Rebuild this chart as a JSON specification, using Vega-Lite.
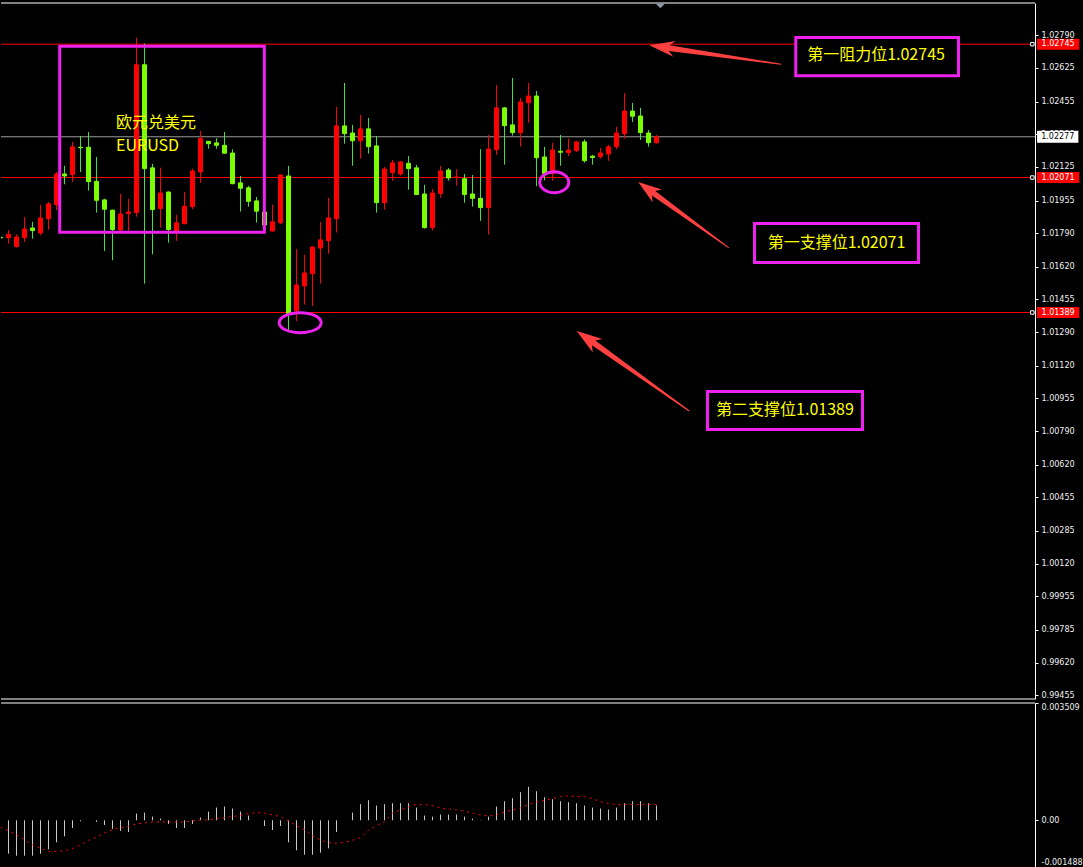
{
  "$schema": "https://vega.github.io/schema/vega-lite/v6.json",
  "background": "#000000",
  "padding": {"left": 0, "top": 2, "right": 0, "bottom": 0},
  "spacing": 2,
  "config": {
    "view": {"stroke": null, "fill": "#000000"},
    "scale": {"continuousPadding": 0},
    "axis": {"labelFont": "DejaVu Sans", "labelFontSize": 8, "labelColor": "#f0f0f0", "domainColor": "#ffffff", "tickColor": "#ffffff", "tickSize": 3, "labelPadding": 3, "grid": false, "domainWidth": 1, "tickWidth": 1, "labelOverlap": false}
  },
  "datasets": {
    "one": [{}],
    "levels": [{"p": 1.02745}, {"p": 1.02071}, {"p": 1.01389}],
    "bars": [
      {"i":0,"o":1.01769,"h":1.01776,"l":1.01759,"c":1.01766,"s":-0.0002},
      {"i":1,"o":1.01767,"h":1.01805,"l":1.01737,"c":1.01784,"m":-0.001,"s":-0.00031},
      {"i":2,"o":1.01722,"h":1.01784,"l":1.01717,"c":1.01771,"m":-0.00106,"s":-0.00043},
      {"i":3,"o":1.01767,"h":1.01872,"l":1.01746,"c":1.01811,"m":-0.00106,"s":-0.00059},
      {"i":4,"o":1.01816,"h":1.01847,"l":1.01762,"c":1.01803,"m":-0.00106,"s":-0.00074},
      {"i":5,"o":1.01791,"h":1.01933,"l":1.01779,"c":1.01867,"m":-0.001,"s":-0.00083},
      {"i":6,"o":1.01863,"h":1.01948,"l":1.01808,"c":1.01938,"m":-0.00087,"s":-0.00093},
      {"i":7,"o":1.01934,"h":1.02099,"l":1.01906,"c":1.02089,"m":-0.00066,"s":-0.00094},
      {"i":8,"o":1.02089,"h":1.0213,"l":1.02037,"c":1.02079,"m":-0.00048,"s":-0.00091},
      {"i":9,"o":1.02086,"h":1.02251,"l":1.02049,"c":1.02226,"m":-0.00023,"s":-0.00085},
      {"i":10,"o":1.02224,"h":1.02281,"l":1.02099,"c":1.02222,"m":-0.00003,"s":-0.00074},
      {"i":11,"o":1.02224,"h":1.02301,"l":1.02005,"c":1.0205,"m":0,"s":-0.0006},
      {"i":12,"o":1.02052,"h":1.02175,"l":1.01894,"c":1.01956,"m":-0.00005,"s":-0.00051},
      {"i":13,"o":1.01958,"h":1.01964,"l":1.017,"c":1.01911,"m":-0.00014,"s":-0.00038},
      {"i":14,"o":1.01906,"h":1.01909,"l":1.01653,"c":1.01808,"m":-0.00026,"s":-0.00028},
      {"i":15,"o":1.01806,"h":1.01988,"l":1.01801,"c":1.01887,"m":-0.00032,"s":-0.00022},
      {"i":16,"o":1.01889,"h":1.01963,"l":1.01801,"c":1.01897,"m":-0.00035,"s":-0.00018},
      {"i":17,"o":1.01894,"h":1.02778,"l":1.01873,"c":1.02641,"m":0.0002,"s":-0.00011},
      {"i":18,"o":1.02641,"h":1.02748,"l":1.01535,"c":1.02116,"m":0.00023,"s":-0.00008},
      {"i":19,"o":1.0212,"h":1.0214,"l":1.01683,"c":1.01909,"m":0.00011,"s":-0.00005},
      {"i":20,"o":1.01914,"h":1.02121,"l":1.01818,"c":1.01993,"m":0.00005,"s":-0.00005},
      {"i":21,"o":1.01998,"h":1.02,"l":1.01742,"c":1.01808,"m":-0.00011,"s":-0.00005},
      {"i":22,"o":1.01798,"h":1.01882,"l":1.01751,"c":1.01842,"m":-0.00023,"s":-0.00005},
      {"i":23,"o":1.01838,"h":1.01998,"l":1.01835,"c":1.01926,"m":-0.00023,"s":-0.00005},
      {"i":24,"o":1.01924,"h":1.02116,"l":1.01911,"c":1.02104,"m":-0.00011,"s":-0.00002},
      {"i":25,"o":1.02099,"h":1.02306,"l":1.02045,"c":1.02268,"m":0.00008,"s":0.00001},
      {"i":26,"o":1.02254,"h":1.02256,"l":1.02217,"c":1.02242,"m":0.00026,"s":0.00001},
      {"i":27,"o":1.02246,"h":1.0227,"l":1.02217,"c":1.02234,"m":0.00038,"s":0.00005},
      {"i":28,"o":1.02234,"h":1.02301,"l":1.02192,"c":1.02194,"m":0.00041,"s":0.00008},
      {"i":29,"o":1.02195,"h":1.02214,"l":1.02037,"c":1.0204,"m":0.00035,"s":0.00011},
      {"i":30,"o":1.02044,"h":1.02079,"l":1.01899,"c":1.02017,"m":0.00026,"s":0.00015},
      {"i":31,"o":1.02019,"h":1.02029,"l":1.01924,"c":1.01951,"m":0.00014,"s":0.0002},
      {"i":32,"o":1.01953,"h":1.01973,"l":1.01843,"c":1.01901,"m":0,"s":0.00023},
      {"i":33,"o":1.01897,"h":1.019,"l":1.01816,"c":1.01831,"m":-0.00017,"s":0.00022},
      {"i":34,"o":1.01801,"h":1.01934,"l":1.01798,"c":1.01847,"m":-0.00029,"s":0.00016},
      {"i":35,"o":1.01842,"h":1.02086,"l":1.01835,"c":1.02084,"m":-0.00017,"s":0.00011},
      {"i":36,"o":1.02079,"h":1.0213,"l":1.01296,"c":1.0138,"m":-0.00066,"s":-0.00003},
      {"i":37,"o":1.01397,"h":1.0171,"l":1.01346,"c":1.01528,"m":-0.0009,"s":-0.00016},
      {"i":38,"o":1.01523,"h":1.0168,"l":1.01429,"c":1.01589,"m":-0.00103,"s":-0.00028},
      {"i":39,"o":1.01585,"h":1.01722,"l":1.01422,"c":1.0172,"m":-0.00103,"s":-0.00047},
      {"i":40,"o":1.01715,"h":1.01847,"l":1.01535,"c":1.01756,"m":-0.00097,"s":-0.00059},
      {"i":41,"o":1.01752,"h":1.01968,"l":1.01686,"c":1.01867,"m":-0.00084,"s":-0.00067},
      {"i":42,"o":1.01863,"h":1.02428,"l":1.01793,"c":1.02332,"m":-0.00035,"s":-0.00069},
      {"i":43,"o":1.02332,"h":1.02549,"l":1.02242,"c":1.02293,"m":0,"s":-0.00066},
      {"i":44,"o":1.02296,"h":1.02337,"l":1.02131,"c":1.02257,"m":0.00023,"s":-0.0006},
      {"i":45,"o":1.02257,"h":1.02387,"l":1.02166,"c":1.02317,"m":0.00048,"s":-0.00052},
      {"i":46,"o":1.02317,"h":1.02372,"l":1.02192,"c":1.02227,"m":0.0006,"s":-0.0003},
      {"i":47,"o":1.02231,"h":1.02281,"l":1.01894,"c":1.01944,"m":0.00044,"s":-0.00016},
      {"i":48,"o":1.01944,"h":1.02125,"l":1.01909,"c":1.02114,"m":0.00048,"s":-0.00004},
      {"i":49,"o":1.02096,"h":1.0216,"l":1.02055,"c":1.02145,"m":0.00051,"s":0.00022},
      {"i":50,"o":1.02089,"h":1.02155,"l":1.02081,"c":1.0215,"m":0.00051,"s":0.00031},
      {"i":51,"o":1.02143,"h":1.02179,"l":1.0201,"c":1.02116,"m":0.00051,"s":0.0004},
      {"i":52,"o":1.0212,"h":1.02135,"l":1.01983,"c":1.01985,"m":0.00038,"s":0.00048},
      {"i":53,"o":1.01988,"h":1.02034,"l":1.01813,"c":1.01818,"m":0.00014,"s":0.00047},
      {"i":54,"o":1.01818,"h":1.02013,"l":1.01803,"c":1.01993,"m":0.00011,"s":0.00044},
      {"i":55,"o":1.0199,"h":1.0213,"l":1.01969,"c":1.02104,"m":0.00017,"s":0.00037},
      {"i":56,"o":1.02109,"h":1.02119,"l":1.02055,"c":1.02069,"m":0.00017,"s":0.00034},
      {"i":57,"o":1.02072,"h":1.02114,"l":1.0203,"c":1.02074,"m":0.00017,"s":0.00031},
      {"i":58,"o":1.02065,"h":1.02089,"l":1.01944,"c":1.01985,"m":0.00011,"s":0.00028},
      {"i":59,"o":1.01988,"h":1.02084,"l":1.01924,"c":1.01966,"m":0.00005,"s":0.00021},
      {"i":60,"o":1.01966,"h":1.02215,"l":1.01852,"c":1.01919,"m":0.00001,"s":0.00016},
      {"i":61,"o":1.01919,"h":1.02286,"l":1.01782,"c":1.02215,"m":0.00011,"s":0.00013},
      {"i":62,"o":1.02212,"h":1.02539,"l":1.02185,"c":1.02423,"m":0.00041,"s":0.00016},
      {"i":63,"o":1.02423,"h":1.02428,"l":1.02136,"c":1.02333,"m":0.00057,"s":0.00025},
      {"i":64,"o":1.02337,"h":1.02574,"l":1.02283,"c":1.02298,"m":0.00066,"s":0.00031},
      {"i":65,"o":1.02298,"h":1.02473,"l":1.02227,"c":1.02453,"m":0.00084,"s":0.00037},
      {"i":66,"o":1.02449,"h":1.02549,"l":1.02348,"c":1.02483,"m":0.001,"s":0.00047},
      {"i":67,"o":1.02483,"h":1.02509,"l":1.02027,"c":1.02171,"m":0.00087,"s":0.00055},
      {"i":68,"o":1.02175,"h":1.02226,"l":1.02057,"c":1.02091,"m":0.00069,"s":0.00059},
      {"i":69,"o":1.02091,"h":1.02246,"l":1.02055,"c":1.0221,"m":0.00063,"s":0.00065},
      {"i":70,"o":1.02204,"h":1.02286,"l":1.02131,"c":1.02199,"m":0.00057,"s":0.00071},
      {"i":71,"o":1.02197,"h":1.02268,"l":1.0218,"c":1.0221,"m":0.00054,"s":0.00073},
      {"i":72,"o":1.02207,"h":1.02256,"l":1.022,"c":1.02251,"m":0.00051,"s":0.00071},
      {"i":73,"o":1.02251,"h":1.02264,"l":1.02146,"c":1.02156,"m":0.00044,"s":0.00071},
      {"i":74,"o":1.02179,"h":1.02185,"l":1.02136,"c":1.02172,"m":0.00038,"s":0.00064},
      {"i":75,"o":1.02177,"h":1.02221,"l":1.02166,"c":1.02195,"m":0.00035,"s":0.00056},
      {"i":76,"o":1.0219,"h":1.02236,"l":1.02155,"c":1.02226,"m":0.00032,"s":0.0005},
      {"i":77,"o":1.02227,"h":1.02327,"l":1.02214,"c":1.02296,"m":0.00038,"s":0.00047},
      {"i":78,"o":1.02293,"h":1.02498,"l":1.02268,"c":1.02407,"m":0.00051,"s":0.00047},
      {"i":79,"o":1.02407,"h":1.02448,"l":1.02352,"c":1.02381,"m":0.00057,"s":0.00047},
      {"i":80,"o":1.02382,"h":1.02423,"l":1.02261,"c":1.02298,"m":0.00057,"s":0.00047},
      {"i":81,"o":1.02296,"h":1.02311,"l":1.02227,"c":1.02247,"m":0.00051,"s":0.00047},
      {"i":82,"o":1.02247,"h":1.02286,"l":1.02242,"c":1.02277,"m":0.00044,"s":0.00047}
    ]
  },
  "vconcat": [
    {
      "width": 1034,
      "height": 696,
      "layer": [
        {
          "data": {"name": "one"},
          "mark": {"type": "rule", "color": "#ffffff", "strokeWidth": 1},
          "encoding": {
            "y": {"datum": 1.02953, "type": "quantitative", "title": null,
              "scale": {"domain": [0.99436, 1.02953], "nice": false, "zero": false, "padding": 0},
              "axis": {"orient": "right", "title": null, "format": ".5f", "labelOverlap": false, "tickCount": 100,
                "values": [1.0279, 1.02625, 1.02455, 1.0229, 1.02125, 1.01955, 1.0179, 1.0162, 1.01455, 1.0129, 1.0112, 1.00955, 1.0079, 1.0062, 1.00455, 1.00285, 1.0012, 0.99955, 0.99785, 0.9962, 0.99455]}}
          }
        },
        {
          "data": {"name": "one"},
          "mark": {"type": "rule", "color": "#ffffff", "strokeWidth": 1},
          "encoding": {"y": {"datum": 0.99436, "type": "quantitative", "title": null}}
        },
        {
          "data": {"name": "levels"},
          "mark": {"type": "rule", "color": "#ff0000", "strokeWidth": 1},
          "encoding": {"y": {"field": "p", "type": "quantitative", "title": null}}
        },
        {
          "data": {"name": "one"},
          "mark": {"type": "rule", "color": "#9a9a9a", "strokeWidth": 1},
          "encoding": {"y": {"datum": 1.02277, "type": "quantitative", "title": null}}
        },
        {
          "data": {"name": "bars"},
          "mark": {"type": "rule", "strokeWidth": 1, "clip": true},
          "encoding": {
            "x": {"field": "i", "type": "quantitative", "axis": null, "scale": {"domain": [0.0625, 129.3125], "nice": false, "zero": false, "padding": 0}},
            "y": {"field": "l", "type": "quantitative", "title": null},
            "y2": {"field": "h"},
            "color": {"condition": {"test": "datum.c > datum.o", "value": "#ff0000"}, "value": "#40e040"}
          }
        },
        {
          "data": {"name": "bars"},
          "mark": {"type": "bar", "size": 4, "strokeWidth": 1, "clip": true},
          "encoding": {
            "x": {"field": "i", "type": "quantitative", "axis": null},
            "y": {"field": "o", "type": "quantitative", "title": null},
            "y2": {"field": "c"},
            "fill": {"condition": {"test": "datum.c > datum.o", "value": "#ff0000"}, "value": "#7cfc00"},
            "stroke": {"condition": {"test": "datum.c > datum.o", "value": "#ff0000"}, "value": "#7cfc00"}
          }
        },
        {
          "data": {"name": "one"},
          "mark": {"type": "rect", "filled": false, "stroke": "#ee22ee", "strokeWidth": 3},
          "encoding": {
            "x": {"datum": 7.4, "type": "quantitative", "axis": null},
            "x2": {"datum": 32.98},
            "y": {"datum": 1.027344, "type": "quantitative", "title": null},
            "y2": {"datum": 1.017946}
          }
        },
        {
          "data": {"name": "one"},
          "mark": {"type": "text", "font": "Noto Sans CJK SC", "fontSize": 16, "color": "#ffff00", "align": "left", "baseline": "middle"},
          "encoding": {
            "x": {"datum": 14.44, "type": "quantitative", "axis": null},
            "y": {"datum": 1.023443, "type": "quantitative", "title": null},
            "text": {"value": "欧元兑美元"}
          }
        },
        {
          "data": {"name": "one"},
          "mark": {"type": "text", "font": "Noto Sans CJK SC", "fontSize": 16, "color": "#ffff00", "align": "left", "baseline": "middle"},
          "encoding": {
            "x": {"datum": 14.44, "type": "quantitative", "axis": null},
            "y": {"datum": 1.022322, "type": "quantitative", "title": null},
            "text": {"value": "EURUSD"}
          }
        },
        {
          "data": {"name": "one"},
          "mark": {"type": "point", "filled": false, "color": "#ee22ee", "strokeWidth": 3, "opacity": 1, "size": 841,
            "shape": "M -1 0 C -1 -0.398 -0.552 -0.72 0 -0.72 C 0.552 -0.72 1 -0.398 1 0 C 1 0.398 0.552 0.72 0 0.72 C -0.552 0.72 -1 0.398 -1 0 Z"},
          "encoding": {
            "x": {"datum": 69.22, "type": "quantitative", "axis": null},
            "y": {"datum": 1.020472, "type": "quantitative", "title": null}
          }
        },
        {
          "data": {"name": "one"},
          "mark": {"type": "point", "filled": false, "color": "#ee22ee", "strokeWidth": 3, "opacity": 1, "size": 1764,
            "shape": "M -1 0 C -1 -0.263 -0.552 -0.476 0 -0.476 C 0.552 -0.476 1 -0.263 1 0 C 1 0.263 0.552 0.476 0 0.476 C -0.552 0.476 -1 0.263 -1 0 Z"},
          "encoding": {
            "x": {"datum": 37.46, "type": "quantitative", "axis": null},
            "y": {"datum": 1.013377, "type": "quantitative", "title": null}
          }
        },
        {
          "data": {"name": "one"},
          "mark": {"type": "point", "filled": true, "color": "#ff4040", "strokeWidth": 0, "opacity": 1, "size": 17689, "angle": 278.2,
            "shape": "M 0 -1 L 0.12 -0.62 L 0.042 -0.7 L 0.008 1 L -0.008 1 L -0.042 -0.7 L -0.12 -0.62 Z"},
          "encoding": {
            "x": {"datum": 89.34, "type": "quantitative", "axis": null},
            "y": {"datum": 1.026914, "type": "quantitative", "title": null}
          }
        },
        {
          "data": {"name": "one"},
          "mark": {"type": "point", "filled": true, "color": "#ff4040", "strokeWidth": 0, "opacity": 1, "size": 12544, "angle": 306,
            "shape": "M 0 -1 L 0.14 -0.58 L 0.05 -0.66 L 0.009 1 L -0.009 1 L -0.05 -0.66 L -0.14 -0.58 Z"},
          "encoding": {
            "x": {"datum": 85.38, "type": "quantitative", "axis": null},
            "y": {"datum": 1.01882, "type": "quantitative", "title": null}
          }
        },
        {
          "data": {"name": "one"},
          "mark": {"type": "point", "filled": true, "color": "#ff4040", "strokeWidth": 0, "opacity": 1, "size": 19044, "angle": 305.5,
            "shape": "M 0 -1 L 0.12 -0.63 L 0.042 -0.7 L 0.008 1 L -0.008 1 L -0.042 -0.7 L -0.12 -0.63 Z"},
          "encoding": {
            "x": {"datum": 79.06, "type": "quantitative", "axis": null},
            "y": {"datum": 1.010937, "type": "quantitative", "title": null}
          }
        },
        {
          "data": {"name": "one"},
          "mark": {"type": "rect", "fill": "#000000", "stroke": "#ee22ee", "strokeWidth": 3},
          "encoding": {
            "x": {"datum": 99.41, "type": "quantitative", "axis": null},
            "x2": {"datum": 119.75},
            "y": {"datum": 1.027789, "type": "quantitative", "title": null},
            "y2": {"datum": 1.025853}
          }
        },
        {
          "data": {"name": "one"},
          "mark": {"type": "rect", "fill": "#000000", "stroke": "#ee22ee", "strokeWidth": 3},
          "encoding": {
            "x": {"datum": 94.25, "type": "quantitative", "axis": null},
            "x2": {"datum": 114.75},
            "y": {"datum": 1.01839, "type": "quantitative", "title": null},
            "y2": {"datum": 1.016419}
          }
        },
        {
          "data": {"name": "one"},
          "mark": {"type": "rect", "fill": "#000000", "stroke": "#ee22ee", "strokeWidth": 3},
          "encoding": {
            "x": {"datum": 88.375, "type": "quantitative", "axis": null},
            "x2": {"datum": 107.75},
            "y": {"datum": 1.009901, "type": "quantitative", "title": null},
            "y2": {"datum": 1.007981}
          }
        },
        {
          "data": {"name": "one"},
          "mark": {"type": "text", "font": "Noto Sans CJK SC", "fontSize": 16, "color": "#ffff00", "align": "center", "baseline": "middle"},
          "encoding": {
            "x": {"datum": 109.44, "type": "quantitative", "axis": null},
            "y": {"datum": 1.026889, "type": "quantitative", "title": null},
            "text": {"value": "第一阻力位1.02745"}
          }
        },
        {
          "data": {"name": "one"},
          "mark": {"type": "text", "font": "Noto Sans CJK SC", "fontSize": 16, "color": "#ffff00", "align": "center", "baseline": "middle"},
          "encoding": {
            "x": {"datum": 104.5, "type": "quantitative", "axis": null},
            "y": {"datum": 1.017405, "type": "quantitative", "title": null},
            "text": {"value": "第一支撑位1.02071"}
          }
        },
        {
          "data": {"name": "one"},
          "mark": {"type": "text", "font": "Noto Sans CJK SC", "fontSize": 16, "color": "#ffff00", "align": "center", "baseline": "middle"},
          "encoding": {
            "x": {"datum": 98.06, "type": "quantitative", "axis": null},
            "y": {"datum": 1.008941, "type": "quantitative", "title": null},
            "text": {"value": "第二支撑位1.01389"}
          }
        },
        {
          "data": {"name": "one"},
          "mark": {"type": "point", "filled": true, "color": "#8a98a8", "opacity": 1, "size": 81, "strokeWidth": 0,
            "shape": "M -1 -0.5 L 1 -0.5 L 0 0.5 Z"},
          "encoding": {
            "x": {"datum": 82.48, "type": "quantitative", "axis": null},
            "y": {"datum": 1.02938, "type": "quantitative", "title": null}
          }
        },
        {
          "data": {"name": "levels"},
          "mark": {"type": "point", "shape": "M -1 -1 L 1 -1 L 1 1 L -1 1 Z", "size": 12, "filled": true, "fill": "#000000", "stroke": "#ffffff", "strokeWidth": 1, "opacity": 1},
          "encoding": {
            "x": {"datum": 128.98, "type": "quantitative", "axis": null},
            "y": {"field": "p", "type": "quantitative", "title": null}
          }
        },
        {
          "data": {"name": "levels"},
          "mark": {"type": "point", "filled": true, "color": "#ff0000", "opacity": 1, "size": 1790, "strokeWidth": 0,
            "shape": "M -1 -0.26 L 1 -0.26 L 1 0.26 L -1 0.26 Z"},
          "encoding": {
            "x": {"datum": 132.2, "type": "quantitative", "axis": null},
            "y": {"field": "p", "type": "quantitative", "title": null}
          }
        },
        {
          "data": {"name": "levels"},
          "mark": {"type": "text", "font": "DejaVu Sans", "fontSize": 8, "color": "#ffffff", "align": "center", "baseline": "middle"},
          "encoding": {
            "x": {"datum": 132.2, "type": "quantitative", "axis": null},
            "y": {"field": "p", "type": "quantitative", "title": null},
            "text": {"field": "p", "type": "quantitative", "format": ".5f"}
          }
        },
        {
          "data": {"name": "one"},
          "mark": {"type": "point", "filled": true, "color": "#ffffff", "opacity": 1, "size": 1706, "strokeWidth": 0,
            "shape": "M -1 -0.29 L 1 -0.29 L 1 0.29 L -1 0.29 Z"},
          "encoding": {
            "x": {"datum": 132.15, "type": "quantitative", "axis": null},
            "y": {"datum": 1.02277, "type": "quantitative", "title": null}
          }
        },
        {
          "data": {"name": "one"},
          "mark": {"type": "text", "font": "DejaVu Sans", "fontSize": 8, "color": "#000000", "align": "center", "baseline": "middle"},
          "encoding": {
            "x": {"datum": 132.15, "type": "quantitative", "axis": null},
            "y": {"datum": 1.02277, "type": "quantitative", "title": null},
            "text": {"value": "1.02277"}
          }
        }
      ]
    },
    {
      "width": 1034,
      "height": 167,
      "layer": [
        {
          "data": {"name": "one"},
          "mark": {"type": "rule", "color": "#ffffff", "strokeWidth": 1},
          "encoding": {
            "y": {"datum": 0.003509, "type": "quantitative", "title": null,
              "scale": {"domain": [-0.001488, 0.003509], "nice": false, "zero": false, "padding": 0},
              "axis": {"orient": "right", "title": null, "values": [0.003509, 0, -0.001488], "labelFlush": true, "labelOverlap": false, "tickCount": 10,
                "labelOffset": {"condition": {"test": "datum.value < -0.001", "value": -4}, "value": 0},
                "labelExpr": "datum.value > 0.003 ? '0.003509' : (datum.value < -0.001 ? '-0.001488' : '0.00')"}}
          }
        },
        {
          "data": {"name": "bars"},
          "mark": {"type": "rule", "color": "#c8c8c8", "strokeWidth": 1, "clip": true},
          "encoding": {
            "x": {"field": "i", "type": "quantitative", "axis": null, "scale": {"domain": [0.0625, 129.3125], "nice": false, "zero": false, "padding": 0}},
            "y": {"field": "m", "type": "quantitative", "title": null},
            "y2": {"datum": 0}
          }
        },
        {
          "data": {"name": "bars"},
          "mark": {"type": "line", "color": "#ff0000", "strokeWidth": 1, "strokeDash": [2, 4], "clip": true},
          "encoding": {
            "x": {"field": "i", "type": "quantitative", "axis": null},
            "y": {"field": "s", "type": "quantitative", "title": null}
          }
        }
      ]
    }
  ]
}
